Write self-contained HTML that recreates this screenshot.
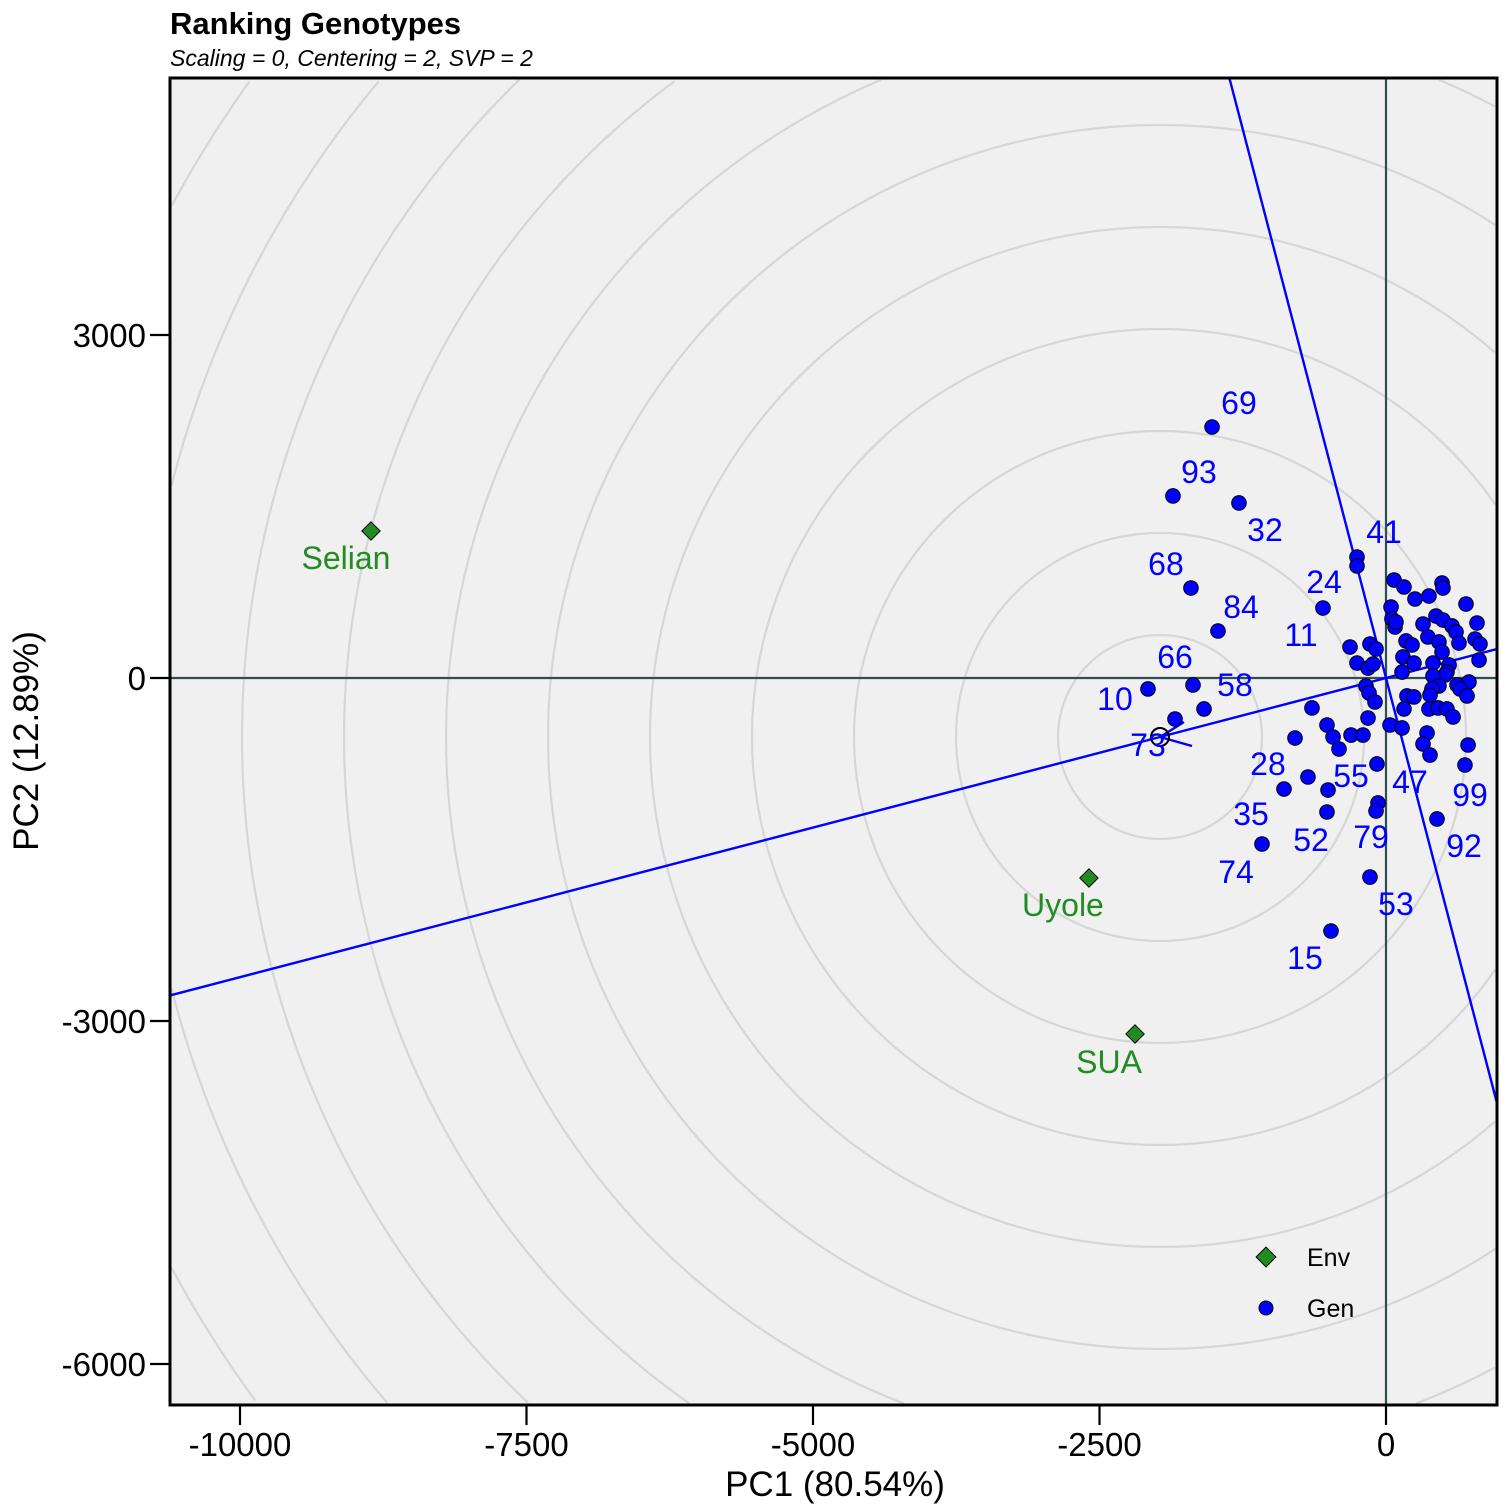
<!DOCTYPE html>
<html><head><meta charset="utf-8"><style>
html,body{margin:0;padding:0;background:#fff;width:1512px;height:1512px;overflow:hidden}
svg{display:block}
svg text{font-family:"Liberation Sans",sans-serif}
</style></head><body>
<svg id="chart" width="1512" height="1512" xmlns="http://www.w3.org/2000/svg">
<text x="170" y="34" font-size="31" font-weight="bold">Ranking Genotypes</text>
<text x="170" y="66" font-size="23" font-style="italic">Scaling = 0, Centering = 2, SVP = 2</text>
<rect x="170" y="78" width="1327" height="1327" fill="#f0f0f0"/>
<g id="rings"></g>
<g id="lines"></g>
<g id="marks"></g>
<rect x="170" y="78" width="1327" height="1327" fill="none" stroke="#000" stroke-width="3"/>
<g id="axes"></g>
<text x="835" y="1496" font-size="35" text-anchor="middle">PC1 (80.54%)</text>
<text transform="translate(38,741) rotate(-90)" font-size="35" text-anchor="middle">PC2 (12.89%)</text>
<g>
<rect x="1259" y="1250" width="14" height="14" transform="rotate(45 1266 1257)" fill="#228B22" stroke="#000"/>
<text x="1307" y="1266" font-size="25">Env</text>
<circle cx="1266" cy="1308" r="7" fill="#0000ff" stroke="#000"/>
<text x="1307" y="1317" font-size="25">Gen</text>
</g>
</svg>
<script>
const xTicks=[-10000,-7500,-5000,-2500,0];
const yTicks=[3000,0,-3000,-6000];
const avgEnv=[-1972,-516];
const ringStep=890;
const envNames=["Selian","Uyole","SUA"];
const envX=[-8857,-2592,-2190];
const envY=[1286,-1749,-3114];
const envLabelX=[-9075,-2819,-2417];
const envLabelY=[1050,-1986,-3359];
const genX=[-253,-253,70,157,253,375,489,497,698,-550,44,52,79,87,323,436,497,576,611,794,366,462,637,777,820,175,227,-314,-140,-87,489,812,148,244,-253,-157,-113,410,550,532,140,515,410,724,620,646,707,462,401,384,-175,-148,-96,183,244,157,375,454,532,585,-646,-157,35,140,-515,-462,-794,-305,-201,-410,358,323,384,716,689,-79,-681,-506,-890,-515,-70,-87,445,-140,-480,-1082,-2077,-1684,-1588,-1841,-1518,-1859,-1283,-1702,-1466];
const genY=[1058,980,857,796,691,717,831,787,647,612,621,516,446,490,472,542,507,455,402,481,359,315,306,341,297,324,289,271,297,254,227,157,184,131,131,87,122,131,114,52,52,26,17,-35,-61,-96,-157,-70,-96,-149,-70,-131,-210,-157,-166,-271,-271,-262,-271,-341,-262,-350,-411,-437,-411,-516,-525,-499,-499,-621,-481,-577,-674,-586,-761,-752,-866,-980,-971,-1172,-1093,-1163,-1233,-1741,-2213,-1452,-96,-61,-271,-359,2195,1592,1531,787,411];
const genLabels=["69","93","32","41","68","24","84","11","66","58","10","73","28","55","47","99","35","52","79","92","74","53","15"];
const genLabelX=[-1283,-1632,-1056,-17,-1920,-541,-1265,-742,-1841,-1318,-2365,-2077,-1030,-305,209,733,-1178,-654,-131,681,-1309,87,-707];
const genLabelY=[2405,1802,1295,1277,997,840,621,376,184,-61,-184,-586,-752,-857,-910,-1023,-1190,-1417,-1391,-1470,-1697,-1977,-2449];

const X0=1386,Y0=678,KX=0.1146,KY=0.11433;
const sx=v=>X0+v*KX, sy=v=>Y0-v*KY;
const L=170,R=1497,T=78,B=1405;
const NS="http://www.w3.org/2000/svg";
function mk(tag,attrs,parent,txt){const e=document.createElementNS(NS,tag);for(const k in attrs)e.setAttribute(k,attrs[k]);if(txt!==undefined)e.textContent=txt;parent.appendChild(e);return e;}
const rings=document.getElementById('rings'),lines=document.getElementById('lines'),marks=document.getElementById('marks'),axes=document.getElementById('axes');
const inside=(x,y)=>x>=L+1&&x<=R-1&&y>=T+1&&y<=B-1;
const ccx=sx(avgEnv[0]),ccy=sy(avgEnv[1]);
for(let k=1;k<=12;k++){
 const r=k*ringStep*KX;
 let d='',pen=false;
 for(let i=0;i<=1440;i++){
  const ang=i/1440*2*Math.PI;
  const x=ccx+r*Math.cos(ang),y=ccy+r*Math.sin(ang);
  if(inside(x,y)){d+=(pen?'L':'M')+x.toFixed(1)+' '+y.toFixed(1);pen=true;}else pen=false;
 }
 if(!d)continue;
 const c=mk('path',{d:d,fill:'none',stroke:'#d6d6d6','stroke-width':2.2},rings);
 
 
}
let h=mk('line',{x1:L,x2:R,y1:sy(0),y2:sy(0),stroke:'#2f4f4f','stroke-width':2.2},lines);


let v=mk('line',{x1:sx(0),x2:sx(0),y1:T,y2:B,stroke:'#2f4f4f','stroke-width':2.2},lines);


const dx=avgEnv[0]*KX, dy=-avgEnv[1]*KY;
const n=Math.hypot(dx,dy);
const ux=dx/n, uy=dy/n;
function clipLine(x,y,ddx,ddy){
 const ts=[];
 if(ddx!==0){ts.push((L-x)/ddx,(R-x)/ddx);}
 if(ddy!==0){ts.push((T-y)/ddy,(B-y)/ddy);}
 const good=ts.filter(t=>{const px=x+ddx*t,py=y+ddy*t;return px>=L-0.1&&px<=R+0.1&&py>=T-0.1&&py<=B+0.1;});
 return [Math.min(...good),Math.max(...good)];
}
let [ta,tb]=clipLine(X0,Y0,ux,uy);
let a=mk('line',{x1:X0+ux*ta,y1:Y0+uy*ta,x2:X0+ux*tb,y2:Y0+uy*tb,stroke:'#0000ff','stroke-width':2.4},lines);


const px=-uy, py=ux;
let [tc,td]=clipLine(X0,Y0,px,py);
let o=mk('line',{x1:X0+px*tc,y1:Y0+py*tc,x2:X0+px*td,y2:Y0+py*td,stroke:'#0000ff','stroke-width':2.4},lines);


const ax=sx(avgEnv[0]),ay=sy(avgEnv[1]);
let h1=mk('line',{x1:ax,y1:ay,x2:ax+32,y2:ay+9,stroke:'#0000ff','stroke-width':2.4},lines);


let h2=mk('line',{x1:ax,y1:ay,x2:ax+24,y2:ay-15,stroke:'#0000ff','stroke-width':2.4},lines);


let am=mk('circle',{cx:ax,cy:ay,r:9,fill:'none',stroke:'#000','stroke-width':2},marks);


for(let i=0;i<genX.length;i++){
 const c=mk('circle',{cx:sx(genX[i]),cy:sy(genY[i]),r:7.3,fill:'#0000ff',stroke:'#000','stroke-width':1},marks);
 
 
}
for(let i=0;i<genLabels.length;i++){
 const t=mk('text',{x:sx(genLabelX[i]),y:sy(genLabelY[i])+11,'font-size':32,fill:'#0000ff','text-anchor':'middle'},marks,genLabels[i]);
 
 
}
for(let i=0;i<envNames.length;i++){
 const cx=sx(envX[i]),cy=sy(envY[i]);
 const d=mk('rect',{x:cx-6.5,y:cy-6.5,width:13,height:13,transform:`rotate(45 ${cx} ${cy})`,fill:'#228B22',stroke:'#000'},marks);
 
 
 const t=mk('text',{x:sx(envLabelX[i]),y:sy(envLabelY[i])+11,'font-size':32,fill:'#228B22','text-anchor':'middle'},marks,envNames[i]);
 
 
}
xTicks.forEach(t=>{
 const l=mk('line',{x1:sx(t),x2:sx(t),y1:B,y2:B+20,stroke:'#000','stroke-width':2.2},axes);
 
 
 const s=mk('text',{x:sx(t),y:1456,'font-size':33,'text-anchor':'middle'},axes,String(t));
 
 
});
yTicks.forEach(t=>{
 const l=mk('line',{x1:150,x2:L,y1:sy(t),y2:sy(t),stroke:'#000','stroke-width':2.2},axes);
 
 
 const s=mk('text',{x:146,y:sy(t)+12,'font-size':33,'text-anchor':'end'},axes,String(t));
 
 
});
</script>
</body></html>
